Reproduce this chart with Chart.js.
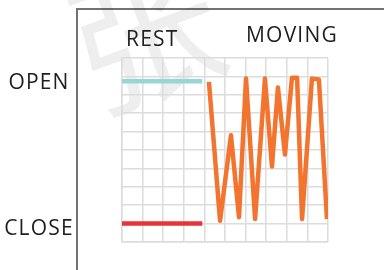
<!DOCTYPE html>
<html>
<head>
<meta charset="utf-8">
<script src="https://cdn.jsdelivr.net/npm/chart.js@4"></script>
<style>
  html, body { margin: 0; padding: 0; background: #fff; }
  #wrap { position: relative; width: 384px; height: 270px; overflow: hidden; }
  #frame { position: absolute; left: 76px; top: 8px; width: 400px; height: 300px;
           border-left: 2px solid #727272; border-top: 2px solid #727272; }
  canvas { position: absolute; left: 0; top: 0; }
</style>
</head>
<body>
<div id="wrap">
  <div id="frame"></div>
  <canvas id="chart" width="384" height="270"></canvas>
</div>
<script>
// resting phase: two flat levels
const restX = [0, 3.9];
const restOpen = [8.73, 8.73];
const restClose = [1.0, 1.0];

// moving phase: the orange trace
const movingX = [4.22, 4.76, 5.29, 5.68, 6.02, 6.46, 6.94, 7.28, 7.57, 7.91, 8.25, 8.5, 8.74, 9.22, 9.56, 9.95];
const movingY = [8.7, 1.15, 5.8, 1.35, 8.88, 1.25, 8.88, 4.1, 8.4, 4.75, 8.93, 8.93, 1.25, 8.88, 8.83, 1.25];

// axis labels
const stateLabels = ["CLOSE", "OPEN"];
const stateValues = [0.7, 8.65];
const phaseLabels = ["REST", "MOVING"];
const phaseX = [1.47, 8.25];
const phaseY = [11.0, 11.2];

function toPoints(xs, ys) {
  return xs.map((x, i) => ({ x: x, y: ys[i] }));
}

const textPlugin = {
  id: "texts",
  beforeDraw(chart) {
    const ctx = chart.ctx;
    ctx.save();
    // faint watermark
    ctx.translate(145, 35);
    ctx.rotate(-0.35);
    ctx.fillStyle = "rgba(0,0,0,0.065)";
    ctx.font = "150px 'Noto Sans CJK SC'";
    ctx.textAlign = "center";
    ctx.textBaseline = "middle";
    ctx.fillText("张", 0, 0);
    ctx.restore();
  },
  afterDraw(chart) {
    const ctx = chart.ctx;
    const xs = chart.scales.x, ys = chart.scales.y;
    ctx.save();
    ctx.fillStyle = "#1e1e1e";
    ctx.font = "21px 'Open Sans'";
    ctx.letterSpacing = "1.2px";
    ctx.textAlign = "center";
    ctx.textBaseline = "middle";
    stateLabels.forEach((t, i) => ctx.fillText(t, 39, ys.getPixelForValue(stateValues[i])));
    phaseLabels.forEach((t, i) => ctx.fillText(t, xs.getPixelForValue(phaseX[i]), ys.getPixelForValue(phaseY[i])));
    ctx.restore();
  }
};

new Chart(document.getElementById("chart"), {
  type: "line",
  data: {
    datasets: [
      { data: toPoints(restX, restOpen), borderColor: "#98d5d3", borderWidth: 4.5, pointRadius: 0 },
      { data: toPoints(restX, restClose), borderColor: "#e9333b", borderWidth: 4.5, pointRadius: 0 },
      { data: toPoints(movingX, movingY), borderColor: "#f2742e", borderWidth: 4.5, pointRadius: 0,
        borderJoinStyle: "round" }
    ]
  },
  options: {
    responsive: false,
    animation: false,
    layout: { padding: { left: 122, right: 56, top: 58, bottom: 28 } },
    plugins: { legend: { display: false }, tooltip: { enabled: false } },
    scales: {
      x: {
        type: "linear", min: 0, max: 10,
        ticks: { display: false, stepSize: 1 },
        grid: { color: "#dcdcdc", lineWidth: 1.5, drawTicks: false },
        border: { color: "#dcdcdc", width: 1.5 }
      },
      y: {
        min: 0, max: 10,
        ticks: { display: false, stepSize: 1 },
        grid: { color: "#dcdcdc", lineWidth: 1.5, drawTicks: false },
        border: { color: "#dcdcdc", width: 1.5 }
      }
    }
  },
  plugins: [textPlugin]
});
</script>
</body>
</html>
